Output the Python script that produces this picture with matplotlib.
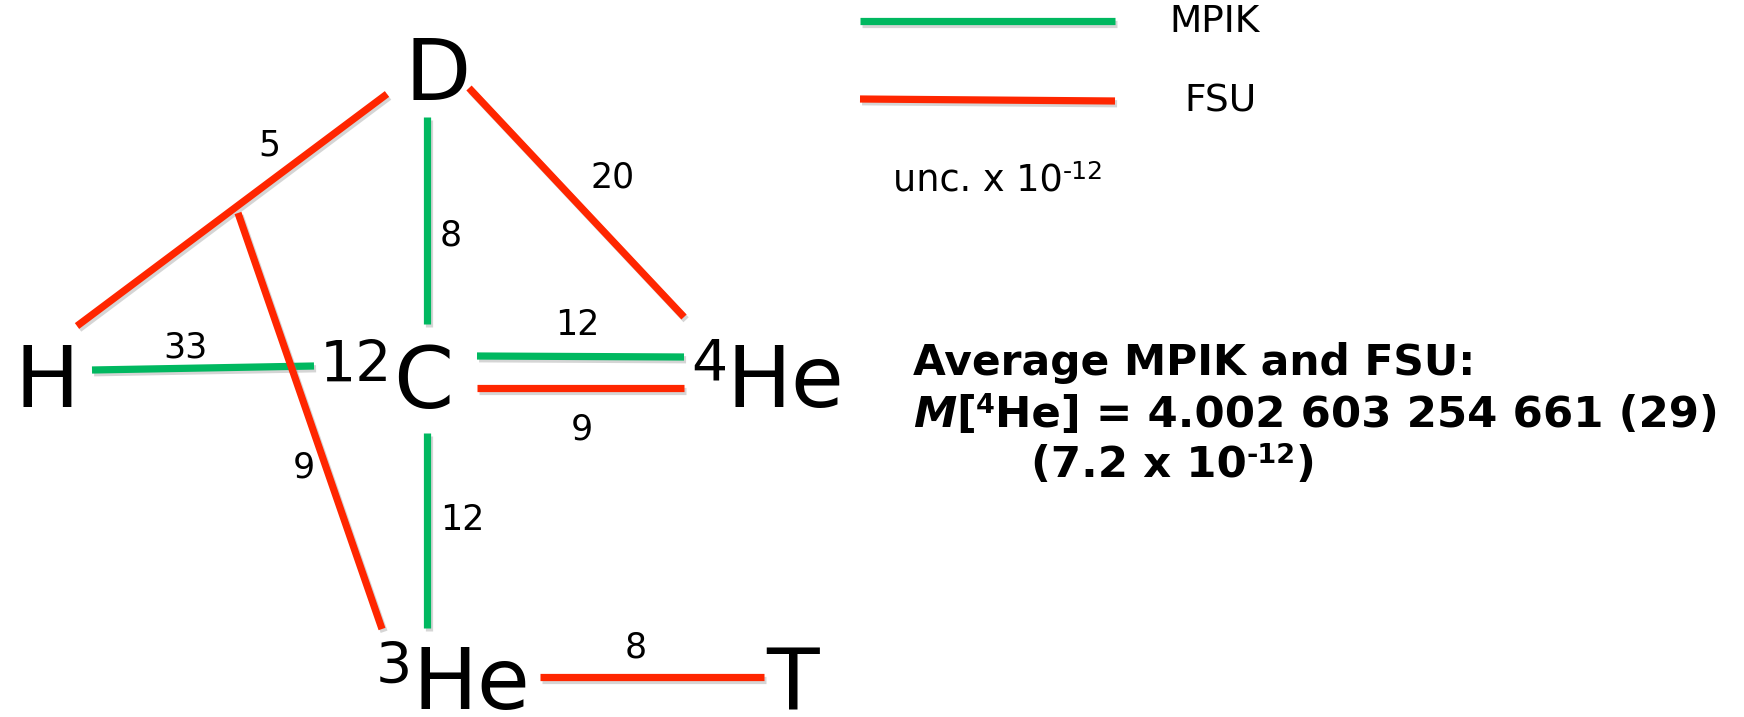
import matplotlib
matplotlib.use("Agg")
import matplotlib.pyplot as plt
import matplotlib.patheffects as pe

W, H = 1744, 717
plt.rcParams['font.family'] = ['DejaVu Sans']

# ---- data ----
node_labels = ['D', 'H', 'C', 'He', 'He', 'T']
node_sups = ['', '', '12', '4', '3', '']
node_xy = [(438, 100), (47, 407), (423, 408), (785, 407), (471, 709), (793, 709)]
sup_xy = [None, None, (356, 382), (709, 380), (394, 684), None]

edge_names = ['H-D', 'D-C', 'D-4He', 'H-C', 'C-4He', 'C-4He', 'C-3He', 'HD-3He', '3He-T']
edge_lab = ['FSU', 'MPIK', 'FSU', 'MPIK', 'MPIK', 'FSU', 'MPIK', 'FSU', 'FSU']
edge_unc = ['5', '8', '20', '33', '12', '9', '12', '9', '8']
edge_x0 = [77, 427, 469, 92, 477, 477, 427, 238, 540]
edge_y0 = [326, 117, 88, 370, 356, 388, 433, 213, 677]
edge_x1 = [387, 427, 684, 314, 684, 684, 427, 382, 764]
edge_y1 = [94, 324, 317, 366, 357, 388, 628, 629, 677]
unc_x = [269, 451, 613, 185, 577, 582, 462, 304, 636]
unc_y = [146, 235, 178, 347, 325, 430, 520, 468, 648]

legend_labels = ['MPIK', 'FSU']
colors = {'MPIK': '#00b860', 'FSU': '#ff2600'}

fig = plt.figure(figsize=(W / 100, H / 100), dpi=100)
ax = fig.add_axes([0, 0, 1, 1])
ax.set_xlim(0, W)
ax.set_ylim(H, 0)
ax.axis('off')

shadow = [pe.SimpleLineShadow(offset=(1.5, -2), shadow_color='#888888', alpha=0.35),
          pe.Normal()]

for i in range(len(edge_names)):
    ax.plot([edge_x0[i], edge_x1[i]], [edge_y0[i], edge_y1[i]],
            color=colors[edge_lab[i]], lw=5.2, solid_capstyle='butt',
            path_effects=shadow)
    ax.text(unc_x[i], unc_y[i], edge_unc[i], fontsize=25, ha='center', va='center')

for lab, sup, (x, y), sxy in zip(node_labels, node_sups, node_xy, sup_xy):
    ax.text(x, y, lab, fontsize=62, ha='center', va='baseline')
    if sup:
        ax.text(sxy[0], sxy[1], sup, fontsize=41, ha='center', va='baseline')

# legend
leg_y = [(21, 21), (99, 101)]
leg_text_xy = [(1215, 22), (1220, 101)]
for lab, (ya, yb), (tx, ty) in zip(legend_labels, leg_y, leg_text_xy):
    ax.plot([860, 1115], [ya, yb], color=colors[lab], lw=5.2,
            solid_capstyle='butt', path_effects=shadow)
    ax.text(tx, ty, lab, fontsize=27, ha='center', va='center')

renderer = fig.canvas.get_renderer()


def runs(x, y, pieces):
    for s, size, dy, kw in pieces:
        t = ax.text(x, y - dy, s, fontsize=size, ha='left', va='baseline', **kw)
        bb = t.get_window_extent(renderer)
        x += bb.width


runs(893, 192, [('unc. x 10', 26.5, 0, {}), ('-12', 18, 13, {})])

B = {'fontweight': 'bold'}
runs(913, 375, [('Average MPIK and FSU:', 30.5, 0, B)])
runs(913, 427, [('M', 31.3, 0, {'fontweight': 'bold', 'fontstyle': 'italic'}),
                ('[', 31.3, 0, B), ('4', 19.5, 14, B),
                ('He] = 4.002 603 254 661 (29)', 31.3, 0, B)])
runs(1031, 477, [('(7.2 x 10', 31.3, 0, B), ('-12', 19.5, 14, B), (')', 31.3, 0, B)])

fig.savefig('out.png', dpi=100)
